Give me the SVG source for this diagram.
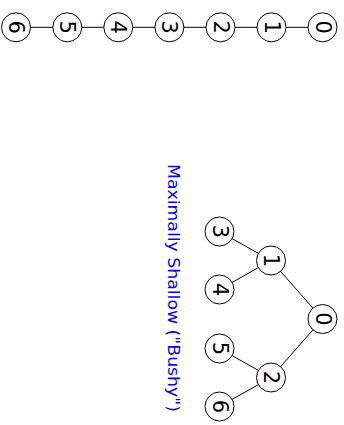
<svg xmlns="http://www.w3.org/2000/svg" width="344" height="425" viewBox="0 0 344 425">
<style>
.n circle{fill:#fff;stroke:#000;stroke-width:1}
.n text{font-family:"DejaVu Sans",sans-serif;font-size:21px;fill:#000;text-anchor:middle;dominant-baseline:central}
.e line{stroke:#000;stroke-width:1}
.t{font-family:"DejaVu Sans",sans-serif;font-size:16.5px;fill:#0000ff}
</style>
<rect width="344" height="425" fill="#fff"/>
<g class="e" id="connectors">
<line x1="16" y1="27.3" x2="322.5" y2="27.3"/>
<line x1="322.5" y1="319" x2="271" y2="260.5"/>
<line x1="322.5" y1="319" x2="271" y2="377.5"/>
<line x1="271" y1="260.5" x2="219.5" y2="231.5"/>
<line x1="271" y1="260.5" x2="219.5" y2="289.5"/>
<line x1="271" y1="377.5" x2="219.5" y2="348.5"/>
<line x1="271" y1="377.5" x2="219.5" y2="406.5"/>
</g>
<g class="n" id="c6"><circle cx="16" cy="27.3" r="14.5"/><text transform="translate(16,27.3) rotate(90)">6</text></g>
<g class="n" id="c5"><circle cx="67.3" cy="27.3" r="14.5"/><text transform="translate(67.3,27.3) rotate(90)">5</text></g>
<g class="n" id="c4"><circle cx="118.3" cy="27.3" r="14.5"/><text transform="translate(118.3,27.3) rotate(90)">4</text></g>
<g class="n" id="c3"><circle cx="169.4" cy="27.3" r="14.5"/><text transform="translate(169.4,27.3) rotate(90)">3</text></g>
<g class="n" id="c2"><circle cx="220.5" cy="27.3" r="14.5"/><text transform="translate(220.5,27.3) rotate(90)">2</text></g>
<g class="n" id="c1"><circle cx="271.5" cy="27.3" r="14.5"/><text transform="translate(271.5,27.3) rotate(90)">1</text></g>
<g class="n" id="c0"><circle cx="322.5" cy="27.3" r="14.5"/><text transform="translate(322.5,27.3) rotate(90)">0</text></g>
<g class="n" id="t0"><circle cx="322.5" cy="319" r="14.5"/><text transform="translate(322.5,319) rotate(90)">0</text></g>
<g class="n" id="t1"><circle cx="271" cy="260.5" r="14.5"/><text transform="translate(271,260.5) rotate(90)">1</text></g>
<g class="n" id="t2"><circle cx="271" cy="377.5" r="14.5"/><text transform="translate(271,377.5) rotate(90)">2</text></g>
<g class="n" id="t3"><circle cx="219.5" cy="231.5" r="14.5"/><text transform="translate(219.5,231.5) rotate(90)">3</text></g>
<g class="n" id="t4"><circle cx="219.5" cy="289.5" r="14.5"/><text transform="translate(219.5,289.5) rotate(90)">4</text></g>
<g class="n" id="t5"><circle cx="219.5" cy="348.5" r="14.5"/><text transform="translate(219.5,348.5) rotate(90)">5</text></g>
<g class="n" id="t6"><circle cx="219.5" cy="406.5" r="14.5"/><text transform="translate(219.5,406.5) rotate(90)">6</text></g>
<text class="t" transform="translate(167.5,164) rotate(90)" textLength="248" lengthAdjust="spacingAndGlyphs">Maximally Shallow ("Bushy")</text>
</svg>
